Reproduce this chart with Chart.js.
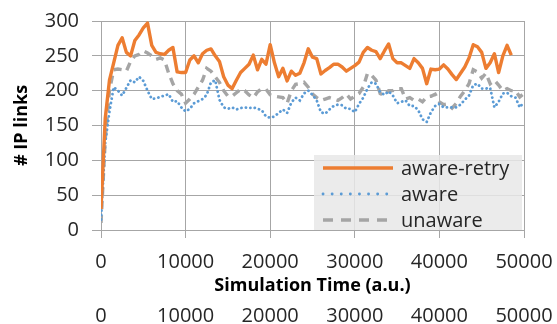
<!DOCTYPE html>
<html>
<head>
<meta charset="utf-8">
<script src="https://cdn.jsdelivr.net/npm/chart.js@4"></script>
<style>
html, body { margin: 0; padding: 0; overflow: hidden; background: #fff; }
#wrap { position: relative; width: 557px; height: 330px; }
</style>
</head>
<body>
<div id="wrap"><canvas id="chart"></canvas></div>
<script>
const seriesNames = ['aware-retry', 'aware', 'unaware'];

const xTicks = [0, 10000, 20000, 30000, 40000, 50000];

const simTime = [
	0, 500, 1000, 1500, 2000, 2500, 3000, 3500, 4000, 4500,
	5000, 5500, 6000, 6500, 7000, 7500, 8000, 8500, 9000, 9500,
	10000, 10500, 11000, 11500, 12000, 12500, 13000, 13500, 14000, 14500,
	15000, 15500, 16000, 16500, 17000, 17500, 18000, 18500, 19000, 19500,
	20000, 20500, 21000, 21500, 22000, 22500, 23000, 23500, 24000, 24500,
	25000, 25500, 26000, 26500, 27000, 27500, 28000, 28500, 29000, 29500,
	30000, 30500, 31000, 31500, 32000, 32500, 33000, 33500, 34000, 34500,
	35000, 35500, 36000, 36500, 37000, 37500, 38000, 38500, 39000, 39500,
	40000, 40500, 41000, 41500, 42000, 42500, 43000, 43500, 44000, 44500,
	45000, 45500, 46000, 46500, 47000, 47500, 48000, 48500, 49000, 49500,
	50000
];

// aware-retry stops a bit before the end of the run (~48500)
const awareRetry = [
	30, 160, 215, 240, 265, 276, 255, 250, 272, 280,
	290, 297, 265, 255, 253, 252, 258, 262, 227, 226,
	226, 244, 250, 240, 253, 258, 260, 250, 242, 220,
	208, 203, 215, 226, 232, 238, 251, 230, 245, 238,
	266, 240, 220, 232, 214, 228, 222, 225, 240, 260,
	248, 246, 224, 229, 233, 238, 238, 234, 228, 232,
	236, 241, 255, 262, 258, 256, 246, 257, 267, 246,
	240, 240, 236, 232, 246, 240, 232, 210, 231, 230,
	231, 237, 231, 223, 216, 225, 234, 247, 266, 263,
	255, 232, 240, 253, 226, 250, 265, 251
];

const aware = [
	15, 125, 170, 205, 200, 193, 204, 215, 212, 220,
	214, 200, 188, 189, 191, 193, 195, 184, 185, 176,
	170, 174, 182, 185, 188, 194, 212, 215, 187, 176,
	174, 176, 173, 175, 176, 175, 176, 174, 172, 163,
	161, 163, 168, 173, 168, 183, 190, 186, 196, 200,
	194, 186, 169, 167, 173, 178, 180, 179, 174, 174,
	169, 181, 190, 203, 212, 210, 198, 194, 199, 193,
	182, 184, 186, 178, 178, 172, 159, 155, 169, 178,
	181, 176, 176, 176, 176, 180, 187, 193, 208, 210,
	203, 203, 204, 176, 184, 196, 197, 192, 190, 176,
	184
];

const unaware = [
	10, 130, 200, 230, 231, 230, 228, 242, 250, 252,
	257, 254, 250, 245, 247, 244, 225, 210, 200, 195,
	182, 188, 195, 205, 215, 232, 228, 220, 212, 200,
	192, 192, 197, 202, 200, 194, 190, 198, 203, 202,
	194, 192, 191, 190, 182, 200, 209, 210, 212, 205,
	195, 190, 186, 188, 190, 188, 186, 190, 195, 188,
	192, 196, 205, 225, 222, 215, 196, 193, 200, 200,
	203, 203, 188, 190, 186, 188, 184, 191, 192, 195,
	184, 180, 181, 175, 182, 192, 200, 210, 230, 227,
	218, 225, 210, 215, 208, 200, 203, 200, 200, 191,
	196
];

const clrRetry   = '#ed7d31';
const clrAware   = '#5b9bd5';
const clrUnaware = '#a5a5a5';
const clrGrid    = '#a6a6a6';
const clrText    = '#262626';

function to_points(values)
{
	return values.map((v, i) => ({ x: simTime[i], y: v }));
}

function tick_plain(value)
{
	return String(value);
}

// pin axis sizes so the plot area lands where the original has it
function fit_x(height)
{
	return function(s) {
		s.height = height;
		s.paddingLeft = 0;
		s.paddingRight = 0;
	};
}

// legend sits inside the plot, bottom right, with a see-through grey box
const insideLegend = {
	id: 'insideLegend',
	afterDatasetsDraw(chart) {
		const { ctx, chartArea } = chart;
		const w = 208, h = 75;
		const x = chartArea.right - w - 2;
		const y = chartArea.bottom - h;

		ctx.save();
		ctx.fillStyle = 'rgba(232, 232, 232, 0.85)';
		ctx.fillRect(x, y, w, h);

		chart.data.datasets.forEach((ds, i) => {
			const cy = y + 13 + i * 26;
			ctx.beginPath();
			ctx.strokeStyle = ds.borderColor;
			ctx.lineWidth = ds.borderWidth;
			ctx.lineCap = ds.borderCapStyle || 'butt';
			ctx.setLineDash(ds.legendDash || []);
			ctx.moveTo(x + 9, cy);
			ctx.lineTo(x + 79, cy);
			ctx.stroke();
			ctx.setLineDash([]);

			ctx.fillStyle = clrText;
			ctx.font = "20px 'Open Sans'";
			ctx.textBaseline = 'middle';
			ctx.textAlign = 'left';
			ctx.fillText(ds.label, x + 87, cy + 1);
		});
		ctx.restore();
	}
};

const chart = new Chart(document.getElementById('chart'), {
	type: 'line',
	data: {
		datasets: [
			{ // aware-retry
				label: seriesNames[0],
				data: to_points(awareRetry),
				borderColor: clrRetry,
				borderWidth: 3.4,
				borderJoinStyle: 'round'
			}, { // aware
				label: seriesNames[1],
				data: to_points(aware),
				borderColor: clrAware,
				borderWidth: 2.8,
				borderCapStyle: 'round',
				borderDash: [0.1, 4.4],
				legendDash: [0.1, 9]
			}, { // unaware
				label: seriesNames[2],
				data: to_points(unaware),
				borderColor: clrUnaware,
				borderWidth: 3.4,
				borderDash: [8, 6],
				legendDash: [10, 8]
			}
		]
	},
	options: {
		responsive: true,
		maintainAspectRatio: false,
		animation: false,
		layout: {
			padding: { left: 8, top: 21, right: 33, bottom: 2 }
		},
		elements: {
			line: { tension: 0 },
			point: { radius: 0 }
		},
		scales: {
			x: {
				type: 'linear',
				position: 'bottom',
				min: 0,
				max: 50000,
				weight: 0,
				afterBuildTicks: (s) => { s.ticks = xTicks.map(v => ({ value: v })); },
				afterFit: fit_x(67),
				grid: { color: clrGrid, lineWidth: 1, tickLength: 8 },
				border: { color: clrGrid },
				ticks: {
					color: clrText,
					font: { family: "'Open Sans'", size: 20 },
					padding: 12,
					maxRotation: 0,
					callback: tick_plain
				},
				title: {
					display: true,
					text: 'Simulation Time (a.u.)',
					color: '#000',
					font: { family: "'Open Sans'", size: 18, weight: 'bold' },
					padding: { top: 4, bottom: 0 }
				}
			},
			x2: {
				type: 'linear',
				position: 'bottom',
				min: 0,
				max: 50000,
				weight: 1,
				afterBuildTicks: (s) => { s.ticks = xTicks.map(v => ({ value: v })); },
				afterFit: fit_x(31),
				grid: { display: false, drawTicks: false },
				border: { display: false },
				ticks: {
					color: clrText,
					font: { family: "'Open Sans'", size: 20 },
					padding: 7,
					maxRotation: 0,
					callback: tick_plain
				}
			},
			y: {
				min: 0,
				max: 300,
				afterFit: (s) => { s.width = 93; s.paddingTop = 0; s.paddingBottom = 0; },
				grid: { color: clrGrid, lineWidth: 1, tickLength: 9 },
				border: { color: clrGrid },
				ticks: {
					stepSize: 50,
					color: clrText,
					font: { family: "'Open Sans'", size: 20 },
					padding: 13
				},
				title: {
					display: true,
					text: '# IP links',
					color: '#000',
					font: { family: "'Open Sans'", size: 18, weight: 'bold' },
					padding: { top: 3, bottom: 12 }
				}
			}
		},
		plugins: {
			legend: { display: false },
			tooltip: { enabled: false }
		}
	},
	plugins: [insideLegend]
});
</script>
</body>
</html>
